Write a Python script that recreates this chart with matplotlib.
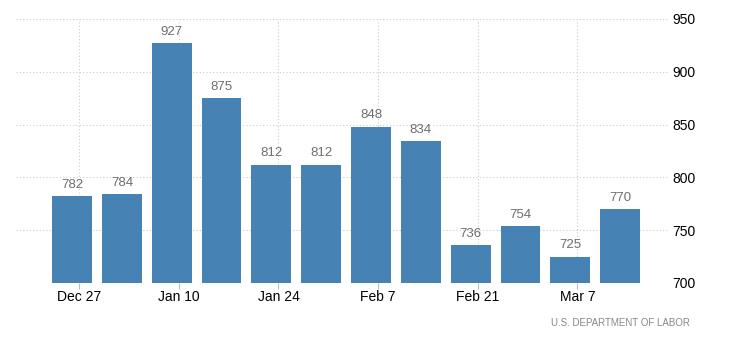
import matplotlib.pyplot as plt

plt.rcParams['font.family'] = ['Liberation Sans', 'DejaVu Sans']

values = [782, 784, 927, 875, 812, 812, 848, 834, 736, 754, 725, 770]
tick_labels = ['Dec 27', 'Jan 10', 'Jan 24', 'Feb 7', 'Feb 21', 'Mar 7']
y_ticks = [700, 750, 800, 850, 900, 950]

fig = plt.figure(figsize=(7.3, 3.44), dpi=100)
ax = fig.add_axes([16 / 730, 1 - 283 / 344, 652 / 730, 264 / 344])

x = list(range(len(values)))
ax.bar(x, [v - 700 for v in values], bottom=700, width=0.8, color='#4682b4', zorder=3)
for xi, v in zip(x, values):
    ax.text(xi, v + 5, str(v), ha='center', va='bottom', fontsize=9.5, color='#6e6e6e', zorder=4)

tick_pos = [i + 1 / 7 for i in range(0, len(values), 2)]
ax.set_xticks(tick_pos)
ax.set_xticklabels(tick_labels, fontsize=10)
ax.set_xlim(-1.125, len(values) - 1 + 0.96)
ax.set_ylim(700, 950)
ax.set_yticks(y_ticks)
ax.yaxis.tick_right()
ax.tick_params(axis='y', length=0, labelsize=10, pad=3)
ax.tick_params(axis='x', length=4, color='#bbbbbb', pad=1)

ax.grid(True, color='#cccccc', linestyle=(0, (1, 2)), linewidth=0.8, zorder=0)
for s in ax.spines.values():
    s.set_visible(False)

fig.text(690 / 730, 1 - 323 / 344, 'U.S. DEPARTMENT OF LABOR', ha='right', va='center',
         fontsize=7, color='#888888')

fig.savefig('out.png', dpi=100)
